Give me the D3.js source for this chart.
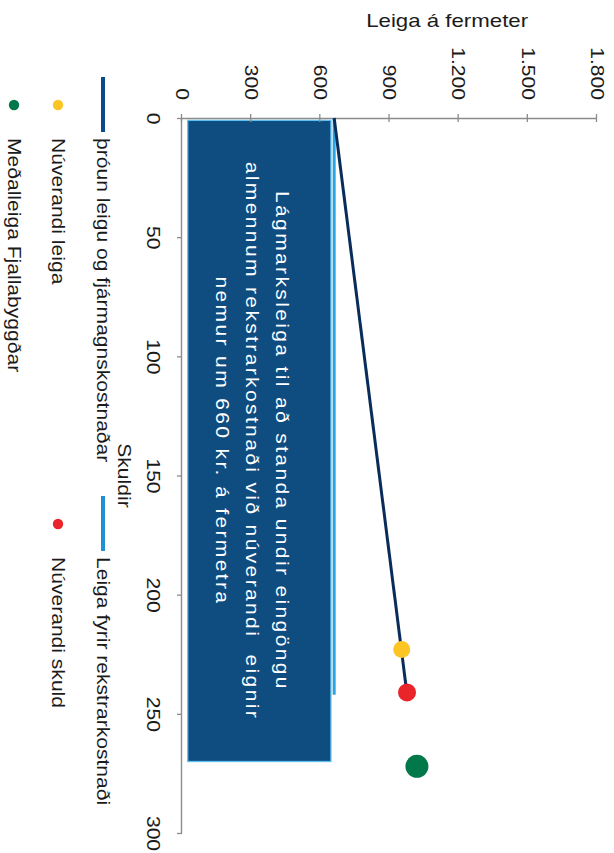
<!DOCTYPE html>
<html><head><meta charset="utf-8">
<script src="https://cdn.jsdelivr.net/npm/d3@7"></script>
<style>
html,body{margin:0;padding:0;background:#fff;}
svg{display:block;font-family:"Liberation Sans",Arial,Helvetica,sans-serif;}
</style></head><body>
<svg id="chart" width="614" height="853"></svg>
<script>
// Axis ticks
const debtTicks = [0, 50, 100, 150, 200, 250, 300];
const rentTicks = [0, 300, 600, 900, 1200, 1500, 1800];

// Rent development including capital cost, by debt
const trendDebt = [0, 241];
const trendRent = [660, 975];

// Rent covering operating cost only
const opDebt = [0, 242];
const opRent = [660, 660];

// Single reference points
const pointNames = ["Núverandi leiga", "Núverandi skuld", "Meðalleiga Fjallabyggðar"];
const pointDebt = [223, 241, 272];
const pointRent = [953, 976, 1019];

// Annotation box extent (debt, rent) and its text
const noteDebt = [1, 270];
const noteRent = [25, 646];
const noteLines = [
  "Lágmarksleiga til að standa undir eingöngu",
  "almennum rekstrarkostnaði við núverandi  eignir",
  "nemur um 660 kr. á fermetra"
];

const legendNames = ["þróun leigu og fjármagnskostnaðar", "Leiga fyrir rekstrarkostnaði",
  "Núverandi leiga", "Núverandi skuld", "Meðalleiga Fjallabyggðar"];

const C = {
  box: "#0f4c80", boxEdge: "#5cc0ee", trend: "#0a2c5a", trendKey: "#0d4a8a",
  op: "#2aa3e0", opKey: "#1f8fd6", yellow: "#fcc425", red: "#ea2529", green: "#00784a",
  axis: "#8c8c8c", text: "#1b1b1b"
};

const W = 614, H = 853;
const svg = d3.select("#chart");
svg.append("rect").attr("width", W).attr("height", H).attr("fill", "#fff");

// Chart is laid out in a landscape frame (853 x 614) and turned a quarter turn clockwise
const g = svg.append("g").attr("transform", `translate(${W},0) rotate(90)`);

const x = d3.scaleLinear().domain([0, 300]).range([118, 833]);
const y = d3.scaleLinear().domain([0, 1800]).range([432, 17]);
const fmt = d3.formatLocale({decimal: ",", thousands: ".", grouping: [3], currency: ["", ""]}).format(",");

// Annotation box
g.append("rect")
  .attr("x", x(noteDebt[0])).attr("y", y(noteRent[1]))
  .attr("width", x(noteDebt[1]) - x(noteDebt[0]))
  .attr("height", y(noteRent[0]) - y(noteRent[1]))
  .attr("fill", C.box).attr("stroke", C.boxEdge).attr("stroke-width", 1.3);

const noteCx = (x(noteDebt[0]) + x(noteDebt[1])) / 2;
const noteCy = (y(noteRent[0]) + y(noteRent[1])) / 2;
g.selectAll("text.note").data(noteLines).join("text")
  .attr("class", "note stretch")
  .attr("x", noteCx).attr("y", (d, i) => noteCy + (i - 1) * 30 + 7)
  .attr("dy", "0.35em").attr("text-anchor", "middle")
  .attr("fill", "#fff").attr("font-size", 18).attr("letter-spacing", 2)
  .attr("xml:space", "preserve")
  .text(d => d);

// Value axis (rent per m²)
const yAxis = g.append("g").attr("transform", `translate(${x(0)},0)`)
  .call(d3.axisLeft(y).tickValues(rentTicks).tickFormat(fmt).tickSize(4).tickPadding(14).tickSizeOuter(0));
yAxis.selectAll(".tick line").attr("x1", -4).attr("x2", 4);

// Debt axis
const xAxis = g.append("g").attr("transform", `translate(0,${y(0)})`)
  .call(d3.axisBottom(x).tickValues(debtTicks).tickSize(5).tickPadding(17).tickSizeOuter(0));

[yAxis, xAxis].forEach(a => {
  a.attr("font-family", null).attr("font-size", null);
  a.select(".domain").attr("stroke", C.axis).attr("stroke-width", 1.4);
  a.selectAll(".tick line").attr("stroke", C.axis).attr("stroke-width", 1.3);
  a.selectAll(".tick text").attr("class", "stretch").attr("fill", C.text)
    .attr("font-size", 18);
});

// Axis titles
g.append("text").attr("class", "stretch")
  .attr("transform", `translate(27,${y(1150)}) rotate(-90)`)
  .attr("text-anchor", "middle").attr("font-size", 19).attr("fill", C.text)
  .text("Leiga á fermeter");
g.append("text").attr("class", "stretch")
  .attr("x", x(150)).attr("y", 496)
  .attr("text-anchor", "middle").attr("font-size", 18).attr("fill", C.text)
  .text("Skuldir");

// Lines
const line = d3.line().x(d => x(d[0])).y(d => y(d[1]));
g.append("path").datum(d3.zip(opDebt, opRent)).attr("d", line)
  .attr("fill", "none").attr("stroke", C.op).attr("stroke-width", 3);
g.append("path").datum(d3.zip(trendDebt, trendRent)).attr("d", line)
  .attr("fill", "none").attr("stroke", C.trend).attr("stroke-width", 3);

// Points
const pointColors = [C.yellow, C.red, C.green];
const pointR = [8.5, 9, 11.5];
g.selectAll("circle.pt").data(pointNames).join("circle")
  .attr("class", "pt")
  .attr("cx", (d, i) => x(pointDebt[i])).attr("cy", (d, i) => y(pointRent[i]))
  .attr("r", (d, i) => pointR[i]).attr("fill", (d, i) => pointColors[i]);

// Legend: two columns, three rows
const legCol = [105, 524], legRow = [511, 556, 600];
const legItems = [
  {type: "line", color: C.trendKey, col: 0, row: 0},
  {type: "line", color: C.opKey, col: 1, row: 0},
  {type: "dot", color: C.yellow, col: 0, row: 1},
  {type: "dot", color: C.red, col: 1, row: 1},
  {type: "dot", color: C.green, col: 0, row: 2}
];
const leg = g.append("g");
legItems.forEach((it, i) => {
  const cx = legCol[it.col], cy = legRow[it.row];
  if (it.type === "line") {
    leg.append("line").attr("x1", cx - 28).attr("x2", cx + 27).attr("y1", cy).attr("y2", cy)
      .attr("stroke", it.color).attr("stroke-width", 4);
  } else {
    leg.append("circle").attr("cx", cx).attr("cy", cy).attr("r", 5.2).attr("fill", it.color);
  }
  leg.append("text").attr("class", "stretch")
    .attr("x", cx + 33).attr("y", cy).attr("dy", "0.35em")
    .attr("font-size", 18).attr("fill", C.text)
    .text(legendNames[i]);
});

// Widen glyphs slightly along the reading direction
svg.selectAll("text.stretch").each(function () {
  const L = this.getComputedTextLength();
  d3.select(this).attr("textLength", L * 1.17).attr("lengthAdjust", "spacingAndGlyphs");
});
</script>
</body></html>
